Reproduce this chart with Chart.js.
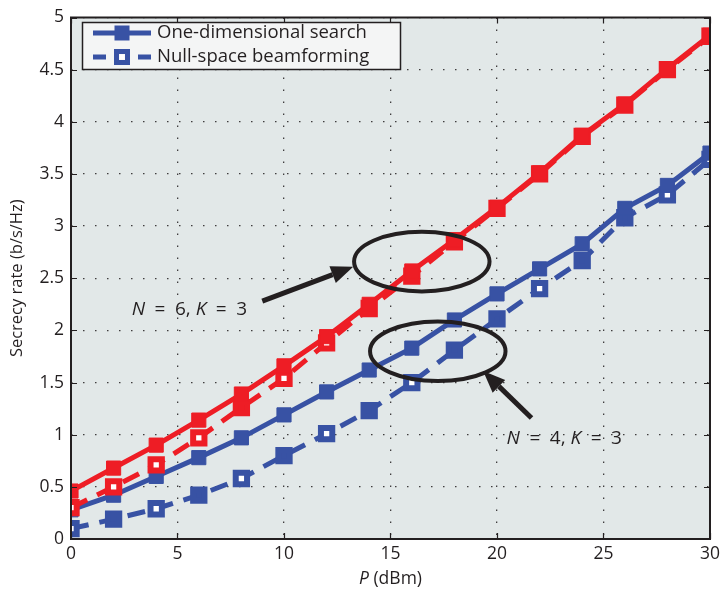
<!DOCTYPE html>
<html>
<head>
<meta charset="utf-8">
<script src="https://cdn.jsdelivr.net/npm/chart.js@4.4.1/dist/chart.umd.min.js"></script>
<style>
  html, body { margin: 0; padding: 0; background: #ffffff; }
  #chart { display: block; }
</style>
</head>
<body>
<canvas id="chart" width="725" height="594"></canvas>
<script>
// Transmit power (dBm)
const power = [0, 2, 4, 6, 8, 10, 12, 14, 16, 18, 20, 22, 24, 26, 28, 30];

// Secrecy rate (b/s/Hz), N = 6, K = 3
const oneDimN6 = [0.46, 0.68, 0.90, 1.14, 1.39, 1.66, 1.94, 2.25, 2.57, 2.87, 3.18, 3.51, 3.87, 4.17, 4.51, 4.83];
const nullSpaceN6 = [0.30, 0.50, 0.71, 0.97, 1.26, 1.54, 1.88, 2.21, 2.52, 2.85, 3.17, 3.50, 3.86, 4.16, 4.50, 4.82];

// Secrecy rate (b/s/Hz), N = 4, K = 3
const oneDimN4 = [0.28, 0.42, 0.60, 0.78, 0.97, 1.19, 1.41, 1.62, 1.83, 2.10, 2.35, 2.59, 2.83, 3.17, 3.39, 3.70];
const nullSpaceN4 = [0.10, 0.19, 0.29, 0.42, 0.58, 0.80, 1.01, 1.23, 1.50, 1.81, 2.11, 2.40, 2.67, 3.08, 3.30, 3.64];

const xTicks = [0, 5, 10, 15, 20, 25, 30];
const yTicks = [0, 0.5, 1, 1.5, 2, 2.5, 3, 3.5, 4, 4.5, 5];

const legendLabels = ['One-dimensional search', 'Null-space beamforming'];

const RED = '#ee1d25';
const BLUE = '#3852a4';
const INK = '#231f20';
const FONT = '"Open Sans", "DejaVu Sans", sans-serif';

// which null-space markers show a white centre
const hollowN6 = [1, 1, 1, 1, 0, 1, 1, 0, 0, 0, 0, 0, 0, 0, 0, 1];
const hollowN4 = [1, 0, 1, 0, 1, 0, 1, 0, 1, 0, 0, 1, 0, 0, 1, 1];

const toPoints = (ys) => ys.map((y, i) => ({x: power[i], y: y}));

const solidSet = function(label, values, color, order) {
    return {
        label: label,
        data: toPoints(values),
        borderColor: color,
        backgroundColor: color,
        borderWidth: 5,
        pointStyle: 'rect',
        pointRadius: 10,
        pointBorderWidth: 1,
        pointBackgroundColor: color,
        pointBorderColor: color,
        order: order
    };
}

const dashedSet = function(label, values, color, hollow, order) {
    return {
        label: label,
        data: toPoints(values),
        borderColor: color,
        backgroundColor: color,
        borderWidth: 5,
        borderDash: [18, 11],
        pointStyle: 'rect',
        pointRadius: 8,
        pointBorderWidth: 6,
        pointBackgroundColor: hollow.map(h => h ? '#ffffff' : color),
        pointBorderColor: color,
        order: order
    };
}

// Annotation geometry, in data units
const ellipses = [
    {x: 16.47, y: 2.66, rx: 3.18, ry: 0.286},
    {x: 17.22, y: 1.80, rx: 3.18, ry: 0.286}
];
const arrows = [
    {from: [8.98, 2.28], to: [13.25, 2.61]},
    {from: [21.62, 1.16], to: [19.35, 1.61]}
];
const EN = '\u2002';
const notes = [
    {x: 2.85, y: 2.20, parts: [['N', true], [EN + '=' + EN + '6, ', false], ['K', true], [EN + '=' + EN + '3', false]]},
    {x: 20.45, y: 0.96, parts: [['N', true], [EN + '=' + EN + '4, ', false], ['K', true], [EN + '=' + EN + '3', false]]}
];

// Draws a run of text where some pieces are italic
const drawRuns = function(ctx, parts, x, y, size) {
    let cx = x;
    parts.forEach(([txt, italic]) => {
        ctx.font = (italic ? 'italic ' : '') + size + 'px ' + FONT;
        ctx.fillText(txt, cx, y);
        cx += ctx.measureText(txt).width;
    });
    return cx;
}

const runsWidth = function(ctx, parts, size) {
    let w = 0;
    parts.forEach(([txt, italic]) => {
        ctx.font = (italic ? 'italic ' : '') + size + 'px ' + FONT;
        w += ctx.measureText(txt).width;
    });
    return w;
}

const plotBackground = {
    id: 'plotBackground',
    beforeDraw(chart) {
        const {ctx, chartArea: a} = chart;
        ctx.save();
        ctx.fillStyle = '#e2e8e8';
        ctx.fillRect(a.left, a.top, a.right - a.left, a.bottom - a.top);
        ctx.restore();
    }
};

const frameAndNotes = {
    id: 'frameAndNotes',
    afterDatasetsDraw(chart) {
        const {ctx, chartArea: a} = chart;
        const xs = chart.scales.x, ys = chart.scales.y;
        ctx.save();

        // ellipses
        ctx.strokeStyle = INK;
        ctx.lineWidth = 4;
        ellipses.forEach(e => {
            const cx = xs.getPixelForValue(e.x), cy = ys.getPixelForValue(e.y);
            const rx = xs.getPixelForValue(e.x + e.rx) - cx;
            const ry = cy - ys.getPixelForValue(e.y + e.ry);
            ctx.beginPath();
            ctx.ellipse(cx, cy, rx, ry, 0, 0, Math.PI * 2);
            ctx.stroke();
        });

        // arrows
        arrows.forEach(ar => {
            const x0 = xs.getPixelForValue(ar.from[0]), y0 = ys.getPixelForValue(ar.from[1]);
            const x1 = xs.getPixelForValue(ar.to[0]), y1 = ys.getPixelForValue(ar.to[1]);
            const ang = Math.atan2(y1 - y0, x1 - x0);
            const headLen = 22, headHalf = 9;
            const bx = x1 - headLen * Math.cos(ang), by = y1 - headLen * Math.sin(ang);
            ctx.lineWidth = 5;
            ctx.beginPath();
            ctx.moveTo(x0, y0);
            ctx.lineTo(bx, by);
            ctx.stroke();
            ctx.fillStyle = INK;
            ctx.beginPath();
            ctx.moveTo(x1, y1);
            ctx.lineTo(bx + headHalf * Math.sin(ang), by - headHalf * Math.cos(ang));
            ctx.lineTo(bx - headHalf * Math.sin(ang), by + headHalf * Math.cos(ang));
            ctx.closePath();
            ctx.fill();
        });

        // N, K labels
        ctx.fillStyle = INK;
        ctx.textBaseline = 'middle';
        ctx.textAlign = 'left';
        notes.forEach(n => {
            drawRuns(ctx, n.parts, xs.getPixelForValue(n.x), ys.getPixelForValue(n.y), 19);
        });

        // axes box with inward ticks
        ctx.strokeStyle = INK;
        ctx.lineWidth = 2;
        ctx.strokeRect(a.left, a.top, a.right - a.left, a.bottom - a.top);
        ctx.lineWidth = 1.2;
        ctx.beginPath();
        xTicks.forEach(t => {
            const px = Math.round(xs.getPixelForValue(t)) + 0.5;
            ctx.moveTo(px, a.bottom); ctx.lineTo(px, a.bottom - 6);
            ctx.moveTo(px, a.top); ctx.lineTo(px, a.top + 6);
        });
        yTicks.forEach(t => {
            const py = Math.round(ys.getPixelForValue(t)) + 0.5;
            ctx.moveTo(a.left, py); ctx.lineTo(a.left + 6, py);
            ctx.moveTo(a.right, py); ctx.lineTo(a.right - 6, py);
        });
        ctx.stroke();

        // legend
        const lx = 82.5, ly = 22.5, lw = 318, lh = 47;
        ctx.fillStyle = '#f4f5f5';
        ctx.fillRect(lx, ly, lw, lh);
        ctx.lineWidth = 1.5;
        ctx.strokeRect(lx, ly, lw, lh);

        ctx.strokeStyle = BLUE;
        ctx.fillStyle = BLUE;
        ctx.lineWidth = 5;
        // solid entry
        let row = 33;
        ctx.beginPath();
        ctx.moveTo(93, row); ctx.lineTo(151, row);
        ctx.stroke();
        ctx.fillRect(122 - 7.5, row - 7.5, 15, 15);
        // dashed entry
        row = 57;
        ctx.beginPath();
        ctx.moveTo(93, row); ctx.lineTo(106, row);
        ctx.moveTo(138, row); ctx.lineTo(151, row);
        ctx.stroke();
        ctx.lineWidth = 5;
        ctx.strokeRect(122 - 5.5, row - 5.5, 11, 11);
        ctx.fillStyle = '#ffffff';
        ctx.fillRect(122 - 2.5, row - 2.5, 5, 5);

        ctx.fillStyle = INK;
        ctx.font = '18.5px ' + FONT;
        ctx.textBaseline = 'middle';
        ctx.fillText(legendLabels[0], 157, 33);
        ctx.fillText(legendLabels[1], 157, 57);

        // axis titles
        const xTitle = [['P', true], [' (dBm)', false]];
        const w = runsWidth(ctx, xTitle, 17.5);
        drawRuns(ctx, xTitle, (a.left + a.right) / 2 - w / 2, 579, 17.5);

        ctx.translate(17, (a.top + a.bottom) / 2);
        ctx.rotate(-Math.PI / 2);
        ctx.textAlign = 'center';
        ctx.font = '16.5px ' + FONT;
        ctx.fillText('Secrecy rate (b/s/Hz)', 0, 0);

        ctx.restore();
    }
};

const ctx = document.getElementById('chart');

new Chart(ctx, {
    type: 'line',
    data: {
        datasets: [
            solidSet(legendLabels[0] + ' (N=6)', oneDimN6, RED, 0),
            dashedSet(legendLabels[1] + ' (N=6)', nullSpaceN6, RED, hollowN6, 1),
            solidSet(legendLabels[0] + ' (N=4)', oneDimN4, BLUE, 2),
            dashedSet(legendLabels[1] + ' (N=4)', nullSpaceN4, BLUE, hollowN4, 3)
        ]
    },
    options: {
        responsive: false,
        animation: false,
        devicePixelRatio: 1,
        layout: {
            padding: {left: 0, right: 13, top: 13, bottom: 0}
        },
        scales: {
            x: {
                type: 'linear',
                min: 0,
                max: 30,
                afterFit: (scale) => { scale.height = 55; },
                afterBuildTicks: (scale) => { scale.ticks = xTicks.map(v => ({value: v})); },
                ticks: {
                    padding: 5,
                    color: INK,
                    font: {family: FONT, size: 17.5},
                    callback: (v) => String(v)
                },
                grid: {
                    drawTicks: false,
                    color: 'rgba(35, 31, 32, 0.85)',
                    lineWidth: 1.3
                },
                border: {display: false, dash: [1.5, 10.5]}
            },
            y: {
                type: 'linear',
                min: 0,
                max: 5,
                afterFit: (scale) => { scale.width = 71; },
                afterBuildTicks: (scale) => { scale.ticks = yTicks.map(v => ({value: v})); },
                ticks: {
                    padding: 7,
                    color: INK,
                    font: {family: FONT, size: 17.5},
                    callback: (v) => String(v)
                },
                grid: {
                    drawTicks: false,
                    color: 'rgba(35, 31, 32, 0.85)',
                    lineWidth: 1.3
                },
                border: {display: false, dash: [1.5, 10.5]}
            }
        },
        plugins: {
            legend: {display: false},
            tooltip: {enabled: false}
        }
    },
    plugins: [plotBackground, frameAndNotes]
});
</script>
</body>
</html>
